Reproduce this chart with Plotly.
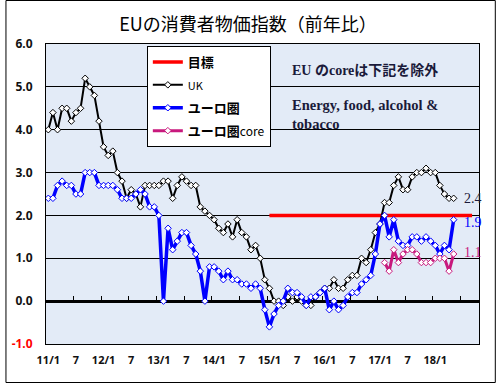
import plotly.graph_objects as go

# ---- data (Jan 2011 .. May 2018, monthly, y/y %) ----
uk = [4.0, 4.4, 4.0, 4.5, 4.5, 4.2, 4.4, 4.5, 5.2, 5.0, 4.8, 4.2,
      3.6, 3.4, 3.5, 3.0, 2.8, 2.4, 2.6, 2.5, 2.2, 2.7, 2.7, 2.7,
      2.7, 2.8, 2.8, 2.4, 2.7, 2.9, 2.8, 2.7, 2.7, 2.2, 2.1, 2.0,
      1.9, 1.7, 1.6, 1.8, 1.5, 1.9, 1.6, 1.5, 1.2, 1.3, 1.0, 0.5,
      0.3, 0.0, 0.0, -0.1, 0.1, 0.0, 0.1, 0.0, -0.1, -0.1, 0.1, 0.2,
      0.3, 0.3, 0.5, 0.3, 0.3, 0.5, 0.6, 0.6, 1.0, 0.9, 1.2, 1.6,
      1.8, 2.3, 2.3, 2.7, 2.9, 2.6, 2.6, 2.9, 3.0, 3.0, 3.1, 3.0,
      3.0, 2.7, 2.5, 2.4, 2.4]
ea = [2.4, 2.4, 2.7, 2.8, 2.7, 2.7, 2.5, 2.5, 3.0, 3.0, 3.0, 2.7,
      2.7, 2.7, 2.7, 2.6, 2.4, 2.4, 2.4, 2.5, 2.6, 2.5, 2.2, 2.2,
      2.0, 0.0, 1.7, 1.2, 1.4, 1.6, 1.6, 1.3, 1.1, 0.7, 0.0, 0.8,
      0.8, 0.7, 0.5, 0.7, 0.5, 0.5, 0.4, 0.4, 0.3, 0.4, 0.3, -0.2,
      -0.6, -0.3, -0.1, 0.0, 0.3, 0.2, 0.2, 0.1, -0.1, 0.1, 0.1, 0.2,
      0.3, -0.2, 0.0, -0.2, -0.1, 0.1, 0.2, 0.2, 0.4, 0.5, 0.6, 1.1,
      1.8, 2.0, 1.5, 1.9, 1.4, 1.3, 1.3, 1.5, 1.5, 1.4, 1.5, 1.4,
      1.3, 1.1, 1.3, 1.2, 1.9]
ea_core = [None] * 73 + [0.9, 0.7, 1.2, 0.9, 1.1, 1.2, 1.2, 1.1, 0.9, 0.9, 0.9,
                         1.0, 1.0, 1.0, 0.7, 1.1]
target = [None] * 48 + [2.0] * 45   # Jan 2015 .. Sep 2018

n_axis = 94   # Jan 2011 .. Oct 2018 categories on the axis
tick_labels = ["11/1", "7", "12/1", "7", "13/1", "7", "14/1", "7",
               "15/1", "7", "16/1", "7", "17/1", "7", "18/1"]
y_ticks = [-1.0, 0.0, 1.0, 2.0, 3.0, 4.0, 5.0, 6.0]

x_all = list(range(n_axis))
x_uk = x_all[:len(uk)]
x_ea = x_all[:len(ea)]
x_core = x_all[:len(ea_core)]
x_tg = x_all[:len(target)]

W, H = 496, 383
L, R, T, B = 41, 17, 44, 39
pw, ph = W - L - R, H - T - B

fig = go.Figure()
fig.add_trace(go.Scatter(x=x_tg, y=target, name="<b>目標</b>", mode="lines",
                         line=dict(color="#FF0000", width=3.5), legendgroup="a"))
fig.add_trace(go.Scatter(x=x_uk, y=uk, name="<span style='font-size:11px'>UK</span>",
                         mode="lines+markers", legendgroup="b",
                         line=dict(color="#000000", width=2),
                         marker=dict(symbol="diamond", size=5, color="white",
                                     line=dict(color="#000000", width=1))))
fig.add_trace(go.Scatter(x=x_ea, y=ea, name="<b>ユーロ圏</b>", mode="lines+markers",
                         legendgroup="c",
                         line=dict(color="#0000FF", width=3.5),
                         marker=dict(symbol="diamond", size=5, color="white",
                                     line=dict(color="#0000FF", width=1))))
fig.add_trace(go.Scatter(x=x_core, y=ea_core,
                         name="<b>ユーロ圏</b><span style='font-size:12px'>core</span>",
                         mode="lines+markers", legendgroup="d",
                         line=dict(color="#C8197D", width=3),
                         marker=dict(symbol="diamond", size=5, color="white",
                                     line=dict(color="#C8197D", width=1))))
# helper trace so the overlay axis (ticks on the zero line) is drawn
fig.add_trace(go.Scatter(x=[None], y=[None], xaxis="x2", showlegend=False,
                         hoverinfo="skip"))

ytext = [("<span style='color:#FF0000'>%.1f</span>" % v) if v < 0 else "%.1f" % v
         for v in y_ticks]

fig.update_layout(
    width=W, height=H,
    margin=dict(l=L, r=R, t=T, b=B),
    paper_bgcolor="white",
    plot_bgcolor="#E3EBF7",
    font=dict(family="Noto Sans CJK JP", color="black"),
    title=dict(text="EUの消費者物価指数（前年比）", x=0.5, xanchor="center",
               y=1 - 25 / H, yanchor="middle", yref="container",
               font=dict(family="Noto Sans CJK JP", size=18, color="black")),
    xaxis=dict(range=[-0.5, n_axis - 0.5],
               tickvals=[6 * i for i in range(len(tick_labels))],
               ticktext=tick_labels, ticks="", showgrid=False, zeroline=False,
               showline=True, linecolor="black", linewidth=1, mirror=True,
               tickfont=dict(family="Noto Sans", size=11, color="#111111", weight="bold"),
               ticklabelstandoff=6),
    xaxis2=dict(overlaying="x", anchor="free", position=1 / 7,
                range=[-0.5, n_axis - 0.5],
                tickvals=[5.5 + 6 * i for i in range(15)],
                ticks="inside", ticklen=5, tickcolor="black", tickwidth=1,
                showticklabels=False, showgrid=False, zeroline=False, showline=False),
    yaxis=dict(range=[-1, 6], tickvals=y_ticks, ticktext=ytext,
               showgrid=True, gridcolor="black", gridwidth=1,
               zeroline=True, zerolinecolor="black", zerolinewidth=2.5,
               showline=True, linecolor="black", linewidth=1, mirror=True,
               tickfont=dict(family="Noto Sans", size=12, color="#111111", weight="bold"),
               ticklabelstandoff=10),
    showlegend=True,
    legend=dict(x=(143 - L) / pw, y=(H - B - 46) / ph, xanchor="left", yanchor="top",
                bgcolor="white", bordercolor="black", borderwidth=1,
                font=dict(family="Noto Sans CJK JP", size=13, color="black"),
                tracegroupgap=3, itemwidth=30),
)

# outer chart border
fig.add_shape(type="rect", xref="paper", yref="paper",
              x0=(0.5 - L) / pw, x1=(W - 0.5 - L) / pw,
              y0=(H - B - (H - 0.5)) / ph, y1=(H - B - 0.5) / ph,
              line=dict(color="black", width=1), fillcolor="rgba(0,0,0,0)")

# notes
fig.add_annotation(text="EU のcoreは下記を除外", xref="paper", yref="paper",
                   x=(288 - L) / pw, y=(H - B - 70) / ph, xanchor="left", yanchor="middle",
                   showarrow=False,
                   font=dict(family="Liberation Serif, Noto Sans CJK JP", size=14,
                             color="#1A1A3A", weight="bold"))
fig.add_annotation(text="Energy, food, alcohol &<br>tobacco", xref="paper", yref="paper",
                   x=(288 - L) / pw, y=(H - B - 95) / ph, xanchor="left", yanchor="top",
                   align="left", showarrow=False,
                   font=dict(family="Liberation Serif", size=14.5, color="#1A1A3A",
                             weight="bold"))

# end-value labels
for xs, ys, col, dy in [(x_uk, uk, "#1A1A3A", 0), (x_ea, ea, "#0000FF", -3),
                        (x_core, ea_core, "#C8197D", 2)]:
    fig.add_annotation(x=xs[-1], y=ys[-1], text="%.1f" % ys[-1], showarrow=False,
                       xanchor="left", yanchor="middle", xshift=8, yshift=dy,
                       font=dict(family="Liberation Serif", size=14, color=col))

fig.write_html("out.html", config={"displayModeBar": False},
               post_script="document.body.style.margin='0px';")
